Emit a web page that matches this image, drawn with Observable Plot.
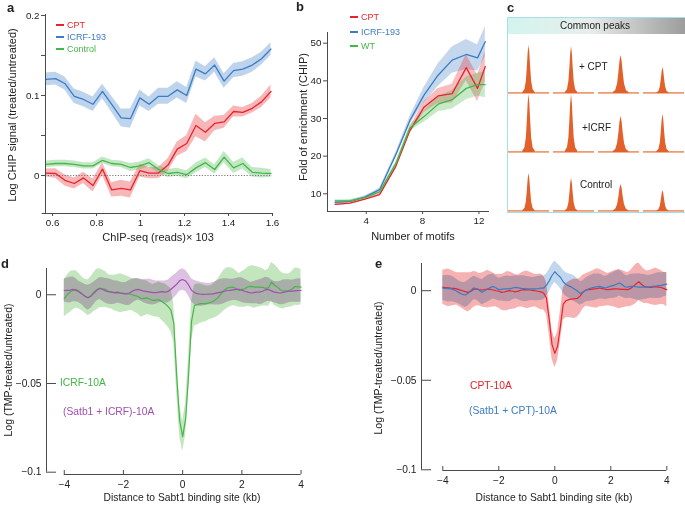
<!DOCTYPE html>
<html><head><meta charset="utf-8">
<script src="https://cdn.jsdelivr.net/npm/d3@7"></script>
<script src="https://cdn.jsdelivr.net/npm/@observablehq/plot@0.6"></script>
<style>
body{margin:0;background:#fff;}
#root{position:relative;width:685px;height:506px;overflow:hidden;font-family:"Liberation Sans",Arial,Helvetica,sans-serif;color:#222;}
.t{position:absolute;white-space:nowrap;line-height:1;}
</style></head><body><div id="root"></div>
<script>
// ---------------- Panel a data ----------------
const aX = [0.571,0.614,0.656,0.699,0.741,0.784,0.827,0.869,0.912,0.954,0.997,1.039,1.082,1.125,1.167,1.210,1.252,1.295,1.337,1.380,1.423,1.465,1.508,1.550,1.593];
const aICRF = [0.120,0.121,0.115,0.099,0.095,0.089,0.105,0.089,0.072,0.071,0.097,0.089,0.099,0.099,0.107,0.100,0.133,0.127,0.138,0.118,0.131,0.133,0.138,0.146,0.158];
const aICRFErr = [0.008,0.008,0.008,0.009,0.009,0.009,0.009,0.010,0.011,0.012,0.010,0.009,0.010,0.010,0.010,0.010,0.010,0.009,0.009,0.009,0.009,0.009,0.009,0.008,0.008];
const aCPT = [0.003,0.0025,-0.006,-0.010,-0.003,-0.0125,0.008,-0.018,-0.016,-0.018,0.006,0.003,0.003,0.013,0.033,0.040,0.0625,0.054,0.065,0.067,0.080,0.079,0.084,0.092,0.105];
const aCPTErr = [0.005,0.006,0.007,0.007,0.007,0.008,0.008,0.009,0.010,0.010,0.008,0.007,0.007,0.008,0.009,0.010,0.014,0.012,0.009,0.008,0.007,0.006,0.006,0.007,0.008];
const aControl = [0.014,0.015,0.015,0.014,0.012,0.012,0.019,0.015,0.014,0.010,0.012,0.016,0.0075,0.0025,0.004,0.001,0.0095,0.016,0.0075,0.023,0.0095,0.015,0.004,0.003,0.0025];
const aControlErr = [0.004,0.004,0.004,0.004,0.004,0.004,0.004,0.004,0.004,0.005,0.005,0.005,0.005,0.005,0.005,0.005,0.006,0.006,0.006,0.007,0.007,0.007,0.006,0.006,0.005];
const aXTicks = [0.6,0.8,1,1.2,1.4,1.6];
const aYTicks = [0,0.1,0.2];
const aYMinor = [0.05,0.15];

// ---------------- Panel b data ----------------
const bX = [1.8,2.85,3.9,4.95,6.1,7.1,8.1,9.1,10.1,11.1,11.9,12.45];
const bICRF = [7.7,8.0,9.1,11.1,20.4,29.5,36.2,41.5,45.5,47.0,46.1,50.4];
const bICRFErr = [0.3,0.3,0.3,0.4,0.6,1.0,2.0,3.0,3.5,4.0,3.5,4.0];
const bCPT = [7.2,7.5,8.6,9.8,17.3,26.8,33.0,36.0,36.6,43.5,38.0,43.8];
const bCPTErr = [0.3,0.3,0.3,0.4,0.5,0.8,1.5,2.0,2.5,3.5,3.5,4.0];
const bWT = [8.1,8.1,9.0,10.5,18.0,27.5,30.5,33.8,35.0,38.0,39.0,39.0];
const bWTErr = [0.3,0.3,0.3,0.4,0.5,0.8,1.5,2.0,2.5,3.0,3.0,3.5];
const bXTicks = [4,8,12];
const bYTicks = [10,20,30,40,50];

// ---------------- Panel c data ----------------
const cRows = ["+ CPT","+ICRF","Control"];
const cCols = [0,1,2,3];
const cHeights = [[48,47,38,26],[58,58,36,38],[38,33,27,21]];
const cCenters = [0,-0.12,0.1,-0.05];
const cWidths = [1,1,1.3,1];
const peakOffsets = [-0.3,-0.2,-0.13,-0.08,-0.04,0,0.04,0.08,0.13,0.2,0.3];
const peakShape = [0.02,0.08,0.25,0.55,0.85,1,0.85,0.55,0.25,0.08,0.02];
const haloOffsets = [-0.45,-0.3,-0.18,-0.1,0,0.1,0.18,0.3,0.45];
const haloShape = [0.02,0.06,0.2,0.5,0.9,0.5,0.2,0.06,0.02];

// ---------------- Panels d / e data (kb grid) ----------------
const kb = d3.range(81).map(i => Math.round((-4 + i*0.1)*10)/10);
const dICRF = [
 -0.002,0.000,0.0015,0.0025,0.003,0.002,0.0005,-0.0008,-0.0017,-0.0005,
 0.0015,0.003,0.0037,0.0033,0.003,0.0018,0.0015,0.001,0.0009,0.0009,
 0.0008,0.0006,0.0005,0.0,-0.0005,-0.001,-0.0022,-0.002,-0.0018,-0.0025,
 -0.0032,-0.003,-0.0028,-0.004,-0.005,-0.0065,-0.0085,-0.016,-0.046,-0.071,
 -0.080,-0.070,-0.045,-0.015,-0.006,-0.0055,-0.005,-0.005,-0.005,-0.0045,
 -0.004,-0.003,-0.0015,0.0005,0.0025,0.0037,0.0042,0.0043,0.0035,0.0025,
 0.003,0.0034,0.0045,0.0047,0.0044,0.0043,0.0043,0.0042,0.0036,0.004,
 0.0072,0.0055,0.0043,0.0028,0.002,0.0022,0.0024,0.0033,0.0046,0.0045,
 0.0043];
const dICRFErr = [
 0.0105,0.011,0.0115,0.011,0.0105,0.010,0.0095,0.0095,0.010,0.0105,
 0.011,0.0115,0.011,0.0105,0.010,0.0095,0.0095,0.010,0.0105,0.011,
 0.0105,0.010,0.0095,0.009,0.0095,0.010,0.0105,0.010,0.0095,0.009,
 0.009,0.0095,0.010,0.0105,0.011,0.0115,0.012,0.011,0.010,0.009,
 0.0085,0.009,0.010,0.011,0.0115,0.0115,0.011,0.0105,0.010,0.0095,
 0.0095,0.010,0.0105,0.011,0.0115,0.0115,0.011,0.0105,0.010,0.0095,
 0.010,0.0105,0.011,0.0115,0.012,0.0115,0.011,0.0105,0.010,0.0105,
 0.011,0.0115,0.011,0.0105,0.010,0.0095,0.0095,0.010,0.0105,0.0105,
 0.010];
const dSatb = [
 0.0024,0.0025,0.0026,0.003,0.0025,0.0015,0.0005,-0.0008,-0.0017,-0.0008,
 0.0008,0.0025,0.0035,0.003,0.0022,0.0018,0.0015,0.0012,0.0015,0.001,
 0.0006,0.0005,0.001,0.002,0.0028,0.003,0.0025,0.002,0.0018,0.0015,
 0.0012,0.0012,0.0015,0.0018,0.0015,0.0018,0.003,0.0045,0.006,0.008,
 0.0086,0.0078,0.0055,0.0025,0.0012,0.0006,0.0003,0.0002,0.0003,0.0004,
 0.0005,0.0008,0.0012,0.0015,0.002,0.0024,0.0025,0.0028,0.003,0.003,
 0.0026,0.002,0.0015,0.001,0.0012,0.0015,0.0015,0.002,0.0028,0.003,
 0.0022,0.0015,0.0012,0.001,0.0013,0.0017,0.002,0.002,0.0022,0.0024,
 0.0024];
const dSatbErr = [
 0.0065,0.007,0.0072,0.007,0.0065,0.006,0.0062,0.0066,0.007,0.0068,
 0.0064,0.006,0.0062,0.0066,0.007,0.0072,0.007,0.0066,0.0062,0.006,
 0.0062,0.0066,0.007,0.0068,0.0064,0.006,0.0062,0.0066,0.007,0.0072,
 0.007,0.0066,0.0062,0.006,0.0062,0.0064,0.0066,0.0065,0.0063,0.006,
 0.006,0.006,0.0062,0.0065,0.0068,0.007,0.0068,0.0065,0.0062,0.006,
 0.0062,0.0066,0.007,0.0072,0.007,0.0066,0.0062,0.006,0.0062,0.0066,
 0.007,0.0068,0.0064,0.006,0.0062,0.0066,0.007,0.0072,0.007,0.0066,
 0.0062,0.006,0.0062,0.0066,0.007,0.0068,0.0064,0.0062,0.0064,0.0066,
 0.0065];
const eCPT = [
 0.0019,0.0018,0.0016,0.0014,0.0013,0.001,0.0005,0.0,-0.0005,-0.0009,
 -0.0004,0.0008,0.001,0.0006,0.0004,0.0006,0.0009,0.0008,0.0004,0.0,
 -0.0003,-0.0009,-0.0007,-0.0002,0.0,-0.0003,-0.0006,-0.0002,0.0004,0.0006,
 0.0005,0.0004,0.0002,0.0,-0.0003,-0.0006,-0.0013,-0.004,-0.016,-0.030,
 -0.035,-0.031,-0.020,-0.0075,-0.0056,-0.005,-0.0047,-0.0045,-0.0043,-0.003,
 -0.0009,0.0003,0.0006,0.0008,0.001,0.0012,0.0015,0.0012,0.0008,0.0006,
 0.0008,0.001,0.001,0.0009,0.0008,0.0007,0.0006,0.0012,0.0024,0.0038,
 0.005,0.0035,0.0024,0.002,0.0019,0.002,0.0022,0.002,0.0018,0.0012,
 0.0006];
const eCPTErr = [
 0.0095,0.010,0.0105,0.010,0.0095,0.009,0.0095,0.010,0.0105,0.011,
 0.0105,0.010,0.0095,0.009,0.0095,0.010,0.0105,0.010,0.0095,0.009,
 0.0095,0.010,0.0105,0.011,0.0105,0.010,0.0095,0.009,0.0095,0.010,
 0.0105,0.010,0.0095,0.009,0.0095,0.010,0.0095,0.009,0.0085,0.008,
 0.008,0.008,0.0085,0.009,0.0095,0.010,0.0105,0.011,0.0105,0.010,
 0.0095,0.009,0.0095,0.010,0.0105,0.011,0.0105,0.010,0.0095,0.009,
 0.0095,0.010,0.0105,0.011,0.0105,0.010,0.0095,0.010,0.0105,0.011,
 0.0105,0.010,0.0095,0.009,0.0095,0.010,0.0105,0.010,0.0095,0.009,
 0.0095];
const eSatb = [
 0.0015,0.0013,0.0012,0.001,0.0005,-0.0003,-0.0012,-0.002,-0.0024,-0.0015,
 0.0,0.0015,0.0012,0.0002,-0.0009,0.0,0.001,0.0018,0.0024,0.0015,
 0.0006,0.0008,0.001,0.001,0.001,0.0015,0.0019,0.0016,0.0013,0.0012,
 0.001,0.001,0.001,0.001,0.0012,0.0015,0.0015,0.003,0.0055,0.0085,
 0.0106,0.009,0.0075,0.005,0.0035,0.0027,0.002,0.001,0.0,-0.0015,
 -0.001,0.0003,0.001,0.0015,0.0019,0.0022,0.0024,0.002,0.0015,0.002,
 0.0026,0.003,0.0036,0.0043,0.0035,0.0022,0.002,0.0024,0.0024,0.0022,
 0.002,0.002,0.0021,0.002,0.0022,0.0024,0.0026,0.0028,0.003,0.0034,
 0.0037];
const eSatbErr = [
 0.007,0.0072,0.0075,0.0072,0.007,0.0066,0.0064,0.0066,0.007,0.0072,
 0.007,0.0066,0.0064,0.0066,0.007,0.0072,0.0075,0.0072,0.007,0.0066,
 0.0064,0.0066,0.007,0.0072,0.007,0.0066,0.0064,0.0066,0.007,0.0072,
 0.007,0.0066,0.0064,0.0066,0.0068,0.0068,0.0066,0.0064,0.0062,0.006,
 0.006,0.006,0.0062,0.0064,0.0066,0.0068,0.007,0.0072,0.007,0.0066,
 0.0064,0.0066,0.007,0.0072,0.0075,0.0072,0.007,0.0066,0.0064,0.0066,
 0.007,0.0072,0.0075,0.0072,0.007,0.0066,0.0064,0.0066,0.007,0.0072,
 0.0075,0.0072,0.007,0.0066,0.0064,0.0066,0.007,0.0072,0.007,0.0068,
 0.0066];
const deXTicks = [-4,-2,0,2,4];
const deYTicks = [0,-0.05,-0.1];

// ---------------- helpers ----------------
const FONT = '"Liberation Sans", Arial, Helvetica, sans-serif';
const root = document.getElementById("root");
const AX = "#4a4a4a";
const C = {red:"#e8232c", blue:"#3b7cc4", green:"#45b649", purple:"#a14fb0"};
function place(el, left, top){ el.style.position="absolute"; el.style.left=left+"px"; el.style.top=top+"px"; root.appendChild(el); return el; }
function txt(s, x, y, o={}){ const d=document.createElement("div"); d.className="t"; d.textContent=s; d.style.left=x+"px"; d.style.top=y+"px"; d.style.transform=o.tr||"translate(0,-50%)"; d.style.fontSize=(o.size||10)+"px"; if(o.color) d.style.color=o.color; if(o.bold) d.style.fontWeight="bold"; root.appendChild(d); return d; }
function ylab(s, cx, cy, size){ return txt(s, cx, cy, {size, tr:"translate(-50%,-50%) rotate(-90deg)"}); }
function xlab(s, cx, cy, size){ return txt(s, cx, cy, {size, tr:"translate(-50%,-50%)"}); }
function legendItem(x, y, s, color, size){ const b=document.createElement("div"); b.style.cssText=`position:absolute;left:${x}px;top:${y-0.75}px;width:8px;height:1.6px;background:${color}`; root.appendChild(b); txt(s, x+11, y, {size, color}); }
function bandRows(xs, v, e){ return xs.map((x,i)=>({x, y:v[i], lo:v[i]-e[i], hi:v[i]+e[i]})); }
const fmtMinus = d => d === 0 ? "0" : (d < 0 ? "\u2212" + String(-d) : String(d));
const style = {fontFamily:FONT, fontSize:"10px", color:"#222", background:"none", overflow:"visible"};

// ---------------- Panel a ----------------
{
  const xd=[0.568,1.6], yd=[-0.0475,0.2012];
  const series=[[aICRF,aICRFErr,C.blue],[aCPT,aCPTErr,C.red],[aControl,aControlErr,C.green]];
  const marks=[];
  for(const [v,e,c] of series) marks.push(Plot.areaY(bandRows(aX,v,e),{x:"x",y1:"lo",y2:"hi",fill:c,fillOpacity:0.33}));
  marks.push(Plot.ruleY([0],{x1:xd[0],x2:xd[1],stroke:"#777",strokeDasharray:"1.2,1.6",strokeWidth:1}));
  for(const [v,e,c] of series) marks.push(Plot.line(bandRows(aX,v,e),{x:"x",y:"y",stroke:c,strokeWidth:1.3}));
  marks.push(Plot.ruleX([xd[0]],{y1:yd[0],y2:yd[1],stroke:AX}));
  marks.push(Plot.ruleY([yd[0]],{x1:0.553,x2:xd[1],stroke:AX}));
  marks.push(Plot.axisY({ticks:aYTicks,tickSize:4,tickPadding:2,tickFormat:String,label:null,stroke:AX}));
  marks.push(Plot.axisY({ticks:aYMinor,tickSize:4,tickFormat:()=>"",label:null,stroke:AX}));
  marks.push(Plot.axisX({ticks:aXTicks,tickSize:3,tickPadding:3,tickFormat:String,label:null,stroke:AX}));
  const p=Plot.plot({width:290,height:245,marginLeft:45,marginRight:18,marginTop:14,marginBottom:32,style:{...style,fontSize:"9.8px"},
    x:{domain:xd,label:null},y:{domain:yd,label:null},marks});
  place(p,0,0);
  legendItem(56,25,"CPT",C.red,9);
  legendItem(56,37,"ICRF-193",C.blue,9);
  legendItem(56,49,"Control",C.green,9);
  ylab("Log CHIP signal (treated/untreated)",12,115,11);
  xlab("ChIP-seq (reads)\u00d7 103",158,237,11);
  txt("a",7,7,{size:13,bold:true});
}

// ---------------- Panel b ----------------
{
  const xd=[1.25,12.75], yd=[5.3,52.84];
  const series=[[bICRF,bICRFErr,C.blue],[bCPT,bCPTErr,C.red],[bWT,bWTErr,C.green]];
  const marks=[];
  for(const [v,e,c] of series) marks.push(Plot.areaY(bandRows(bX,v,e),{x:"x",y1:"lo",y2:"hi",fill:c,fillOpacity:0.3}));
  for(const [v,e,c] of series) marks.push(Plot.line(bandRows(bX,v,e),{x:"x",y:"y",stroke:c,strokeWidth:1.3}));
  marks.push(Plot.ruleX([xd[0]],{y1:yd[0],y2:yd[1],stroke:AX}));
  marks.push(Plot.ruleY([yd[0]],{x1:xd[0],x2:xd[1],stroke:AX}));
  marks.push(Plot.axisY({ticks:bYTicks,tickSize:4,tickPadding:2,label:null,stroke:AX}));
  marks.push(Plot.axisX({ticks:bXTicks,tickSize:3,tickPadding:3,label:null,stroke:AX}));
  const p=Plot.plot({width:210,height:245,marginLeft:37,marginRight:11,marginTop:32,marginBottom:34,style:{...style,fontSize:"9.8px"},
    x:{domain:xd,label:null},y:{domain:yd,label:null},marks});
  place(p,290,0);
  legendItem(350,17,"CPT",C.red,9);
  legendItem(350,32,"ICRF-193",C.blue,9);
  legendItem(350,46,"WT",C.green,9);
  ylab("Fold of enrichment (CHIP)",303,117,11);
  xlab("Number of motifs",413,236,11);
  txt("b",296,6,{size:13,bold:true});
}

// ---------------- Panel c ----------------
{
  const box=document.createElement("div");
  box.style.cssText="position:absolute;left:507px;top:17px;width:190px;height:196px;border:1px solid #a6dfe8;box-sizing:border-box;";
  root.appendChild(box);
  const head=document.createElement("div");
  head.style.cssText="position:absolute;left:508px;top:18px;width:180px;height:16px;background:linear-gradient(90deg,#d2f4ed 0%,#e8eeec 45%,#9a9a9a 100%);";
  root.appendChild(head);
  const peaks=[], halos=[];
  cRows.forEach((r,ri)=>cCols.forEach(ci=>{
    peakOffsets.forEach((o,k)=>peaks.push({row:r,col:ci,key:r+ci,x:cCenters[ci]+o*cWidths[ci],y:cHeights[ri][ci]*peakShape[k]}));
    haloOffsets.forEach((o,k)=>halos.push({row:r,col:ci,key:r+ci,x:cCenters[ci]+o*cWidths[ci],y:cHeights[ri][ci]*0.35*haloShape[k]}));
  }));
  const all=peaks.concat(halos);
  const p=Plot.plot({width:178,height:177,marginLeft:0,marginRight:0,marginTop:0,marginBottom:0,style,
    facet:{data:all,x:"col",y:"row",marginTop:0,marginBottom:0,marginLeft:0,marginRight:0},
    fx:{domain:cCols,paddingInner:0.1,paddingOuter:0,axis:null},
    fy:{domain:cRows,paddingInner:0,paddingOuter:0,axis:null},
    x:{domain:[-1,1],axis:null},y:{domain:[0,59],axis:null},
    marks:[
      Plot.ruleY([0.7],{stroke:"#ee9a72",strokeWidth:1.8}),
      Plot.areaY(all,{filter:(d,i)=>i>=peaks.length,x:"x",y:"y",z:"key",fill:"#f0a07a"}),
      Plot.areaY(all,{filter:(d,i)=>i<peaks.length,x:"x",y:"y",z:"key",fill:"#e2612a"})
    ]});
  place(p,507,34);
  txt("Common peaks",595,26,{size:10,tr:"translate(-50%,-50%)"});
  txt("+ CPT",579,67,{size:10});
  txt("+ICRF",582,128,{size:10});
  txt("Control",580,185,{size:10});
  txt("c",507,7,{size:13,bold:true});
}

// ---------------- Panels d & e ----------------
function profile({left,top,width,height,mL,mR,mT,mB,xd,yd,s1,s2,c1,c2,b1,b2}){
  const tickLenX=10/((width-mL-mR)/(xd[1]-xd[0]));
  const tickLenY=4/((height-mT-mB)/(yd[1]-yd[0]));
  const r1=bandRows(kb,s1[0],s1[1]), r2=bandRows(kb,s2[0],s2[1]);
  const marks=[
    Plot.areaY(r1,{x:"x",y1:"lo",y2:"hi",fill:b1,curve:"linear"}),
    Plot.areaY(r2,{x:"x",y1:"lo",y2:"hi",fill:b2,curve:"linear"}),
    Plot.line(r1,{x:"x",y:"y",stroke:c1,strokeWidth:1.2}),
    Plot.line(r2,{x:"x",y:"y",stroke:c2,strokeWidth:1.2}),
    Plot.ruleX([xd[0]],{y1:-0.1,y2:yd[1],stroke:AX}),
    Plot.ruleY([yd[0]],{x1:-4,x2:4,stroke:AX}),
    Plot.ruleY(deYTicks,{x1:xd[0],x2:xd[0]+tickLenX,stroke:AX}),
    Plot.ruleX(deXTicks,{y1:yd[0],y2:yd[0]+tickLenY,stroke:AX}),
    Plot.axisY({ticks:deYTicks,tickSize:0,tickPadding:5,tickFormat:fmtMinus,label:null}),
    Plot.axisX({ticks:deXTicks,tickSize:0,tickPadding:6,tickFormat:fmtMinus,label:null})
  ];
  const p=Plot.plot({width,height,marginLeft:mL,marginRight:mR,marginTop:mT,marginBottom:mB,style:{...style,fontSize:"10.2px"},
    x:{domain:xd,label:null},y:{domain:yd,label:null},marks});
  p.querySelectorAll('g[aria-label="area"]').forEach(g=>g.style.mixBlendMode="multiply");
  place(p,left,top);
}
profile({left:0,top:250,width:345,height:256,mL:46,mR:40,mT:18,mB:32,xd:[-4.6,4.15],yd:[-0.1013,0.0148],
  s1:[dICRF,dICRFErr],s2:[dSatb,dSatbErr],c1:C.green,c2:C.purple,b1:"#c4e6bf",b2:"#dcc1e0"});
ylab("Log (TMP-treated/untreated)",8,370,10.5);
xlab("Distance to Sabt1 binding site (kb)",182,498,10.3);
txt("ICRF-10A",60,383,{size:10.3,color:C.green});
txt("(Satb1 + ICRF)-10A",63,412,{size:10.3,color:C.purple});
txt("d",1,257,{size:13,bold:true,tr:"none"});

profile({left:345,top:250,width:340,height:256,mL:76,mR:10,mT:13,mB:36,xd:[-4.76,4.31],yd:[-0.1004,0.0152],
  s1:[eCPT,eCPTErr],s2:[eSatb,eSatbErr],c1:C.red,c2:C.blue,b1:"#f6b2b2",b2:"#c1d7ee"});
ylab("Log (TMP-treated/untreated)",378,368,10.5);
xlab("Distance to Sabt1 binding site (kb)",554,498,10.3);
txt("CPT-10A",470,386,{size:10.3,color:C.red});
txt("(Satb1 + CPT)-10A",469,411,{size:10.3,color:C.blue});
txt("e",375,257,{size:13,bold:true,tr:"none"});
</script>
</body></html>
